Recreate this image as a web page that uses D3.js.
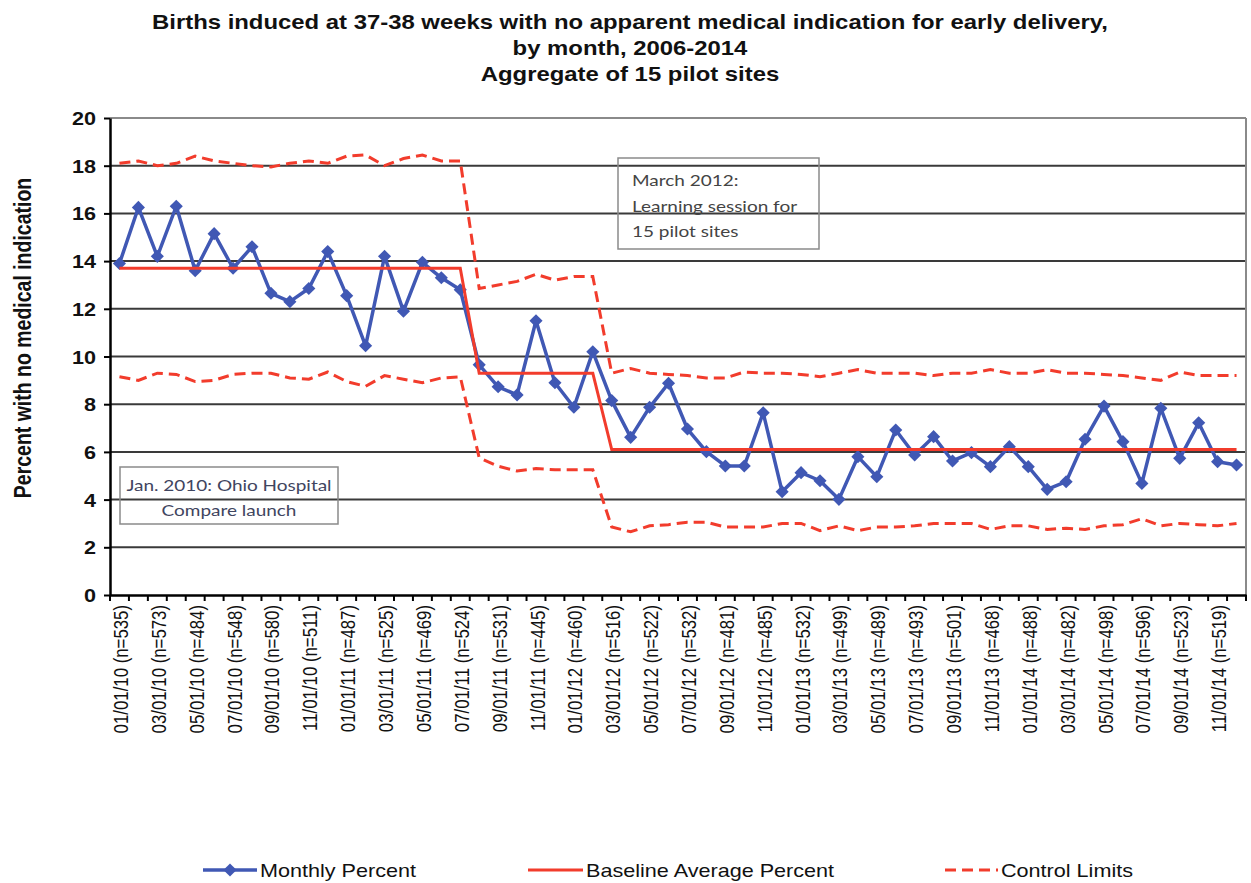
<!DOCTYPE html>
<html>
<head>
<meta charset="utf-8">
<script src="https://cdn.jsdelivr.net/npm/d3@7"></script>
<style>
  body { margin: 0; background: #fff; }
  text { font-family: "Liberation Sans", Arial, sans-serif; }
</style>
</head>
<body>
<div id="main"></div>
<script>
// 60 monthly categories, Jan 2010 .. Dec 2014
const categories = d3.timeMonth.range(new Date(2010, 0, 1), new Date(2015, 0, 1))
  .map(d3.timeFormat('%m/%d/%y'));

const tickLabels = [
  '01/01/10 (n=535)', '03/01/10 (n=573)', '05/01/10 (n=484)', '07/01/10 (n=548)',
  '09/01/10 (n=580)', '11/01/10 (n=511)', '01/01/11 (n=487)', '03/01/11 (n=525)',
  '05/01/11 (n=469)', '07/01/11 (n=524)', '09/01/11 (n=531)', '11/01/11 (n=445)',
  '01/01/12 (n=460)', '03/01/12 (n=516)', '05/01/12 (n=522)', '07/01/12 (n=532)',
  '09/01/12 (n=481)', '11/01/12 (n=485)', '01/01/13 (n=532)', '03/01/13 (n=499)',
  '05/01/13 (n=489)', '07/01/13 (n=493)', '09/01/13 (n=501)', '11/01/13 (n=468)',
  '01/01/14 (n=488)', '03/01/14 (n=482)', '05/01/14 (n=498)', '07/01/14 (n=596)',
  '09/01/14 (n=523)', '11/01/14 (n=519)'
];

const monthlyPercent = [
  13.9, 16.25, 14.2, 16.3, 13.6, 15.15, 13.7, 14.6, 12.65, 12.3,
  12.85, 14.4, 12.55, 10.45, 14.2, 11.9, 13.95, 13.3, 12.8, 9.65,
  8.73, 8.39, 11.5, 8.9, 7.87, 10.2, 8.15, 6.61, 7.87, 8.88,
  6.96, 6.01, 5.41, 5.41, 7.64, 4.33, 5.13, 4.79, 4.01, 5.8,
  4.96, 6.92, 5.87, 6.64, 5.62, 5.97, 5.38, 6.22, 5.38, 4.43,
  4.75, 6.53, 7.92, 6.43, 4.68, 7.83, 5.73, 7.22, 5.59, 5.45
];

const baselineAvg = [
  13.7, 13.7, 13.7, 13.7, 13.7, 13.7, 13.7, 13.7, 13.7, 13.7,
  13.7, 13.7, 13.7, 13.7, 13.7, 13.7, 13.7, 13.7, 13.7, 9.3,
  9.3, 9.3, 9.3, 9.3, 9.3, 9.3, 6.1, 6.1, 6.1, 6.1,
  6.1, 6.1, 6.1, 6.1, 6.1, 6.1, 6.1, 6.1, 6.1, 6.1,
  6.1, 6.1, 6.1, 6.1, 6.1, 6.1, 6.1, 6.1, 6.1, 6.1,
  6.1, 6.1, 6.1, 6.1, 6.1, 6.1, 6.1, 6.1, 6.1, 6.1
];

const upperLimit = [
  18.1, 18.2, 18.0, 18.1, 18.4, 18.2, 18.1, 18.0, 17.95, 18.1,
  18.2, 18.1, 18.4, 18.45, 18.0, 18.3, 18.45, 18.2, 18.2, 12.85,
  13.0, 13.15, 13.45, 13.2, 13.35, 13.35, 9.3, 9.5, 9.3, 9.25,
  9.2, 9.1, 9.1, 9.35, 9.3, 9.3, 9.25, 9.15, 9.3, 9.45,
  9.3, 9.3, 9.3, 9.2, 9.3, 9.3, 9.45, 9.3, 9.3, 9.45,
  9.3, 9.3, 9.25, 9.2, 9.1, 9.0, 9.35, 9.2, 9.2, 9.2
];

const lowerLimit = [
  9.15, 9.0, 9.3, 9.25, 8.95, 9.0, 9.25, 9.3, 9.3, 9.1,
  9.05, 9.35, 8.95, 8.75, 9.2, 9.05, 8.9, 9.1, 9.15, 5.75,
  5.4, 5.2, 5.3, 5.25, 5.25, 5.25, 2.85, 2.65, 2.9, 2.95,
  3.05, 3.05, 2.85, 2.85, 2.85, 3.0, 3.0, 2.7, 2.9, 2.7,
  2.85, 2.85, 2.9, 3.0, 3.0, 3.0, 2.75, 2.9, 2.9, 2.75,
  2.8, 2.75, 2.9, 2.95, 3.2, 2.9, 3.0, 2.95, 2.9, 3.0
];

const yTicks = [0, 2, 4, 6, 8, 10, 12, 14, 16, 18, 20];

const
  W = 1251, H = 883,
  plotLeft = 110, plotRight = 1246, plotTop = 118, plotBottom = 595,
  SX = 1.2, // the original picture is stretched sideways
  blue = '#4058b4',
  red = '#f23c2c';

let svg = d3.select('#main')
  .append('svg')
  .attr('width', W)
  .attr('height', H)
  .style('display', 'block');

svg.append('rect').attr('width', W).attr('height', H).attr('fill', '#fff');

const y = d3.scaleLinear().domain([0, 20]).range([plotBottom, plotTop]);
const xb = d3.scaleBand().domain(categories).range([plotLeft, plotRight]);
const xp = d3.scalePoint().domain(categories).range([plotLeft, plotRight]).padding(0.5);

// gridlines
svg.append('g')
  .selectAll('line')
  .data(yTicks.filter(d => d > 0))
  .enter()
  .append('line')
    .attr('x1', plotLeft)
    .attr('x2', plotRight)
    .attr('y1', d => y(d))
    .attr('y2', d => y(d))
    .attr('stroke', d => d === 20 ? '#8a8a8a' : '#3a3a3a')
    .attr('stroke-width', 2);

// right border
svg.append('line')
  .attr('x1', plotRight).attr('x2', plotRight)
  .attr('y1', plotTop).attr('y2', plotBottom)
  .attr('stroke', '#8a8a8a')
  .attr('stroke-width', 2);

// y axis
let yAxis = svg.append('g')
  .attr('transform', `translate(${plotLeft},0)`)
  .call(d3.axisLeft(y).tickValues(yTicks).tickSize(6).tickSizeOuter(0));
yAxis.select('.domain').attr('stroke', '#000').attr('stroke-width', 2.5);
yAxis.selectAll('.tick line').attr('stroke', '#000').attr('stroke-width', 2);
yAxis.selectAll('.tick text')
  .attr('x', null).attr('dy', null)
  .attr('transform', `translate(-14,6.5) scale(${SX},1)`)
  .attr('fill', '#111')
  .style('font-family', '"Liberation Sans", Arial, sans-serif')
  .style('font-weight', 'bold')
  .style('font-size', '18px');

// x axis: labels on every other month
const labelFor = {};
tickLabels.forEach(t => { labelFor[t.slice(0, 8)] = t; });

let xAxis = svg.append('g')
  .attr('transform', `translate(0,${plotBottom})`)
  .call(d3.axisBottom(xp)
    .tickValues(categories.filter(c => labelFor[c]))
    .tickFormat(c => labelFor[c])
    .tickSize(0)
    .tickSizeOuter(0));
xAxis.select('.domain').attr('stroke', '#000').attr('stroke-width', 2.5);
xAxis.selectAll('.tick text')
  .attr('y', null).attr('dy', null)
  .attr('text-anchor', 'end')
  .attr('transform', `translate(8,10) scale(${SX},1) rotate(-90)`)
  .attr('fill', '#111')
  .style('font-family', '"Liberation Sans", Arial, sans-serif')
  .style('font-size', '16.8px');

// tick marks between months
svg.append('g')
  .selectAll('line')
  .data(categories.map(c => xb(c)).concat([plotRight]))
  .enter()
  .append('line')
    .attr('x1', d => d).attr('x2', d => d)
    .attr('y1', plotBottom).attr('y2', plotBottom + 6)
    .attr('stroke', '#000')
    .attr('stroke-width', 2);

const lineOf = vals => d3.line()
  .x((d, i) => xp(categories[i]))
  .y(d => y(d))(vals);

// monthly percent
svg.append('path')
  .attr('d', lineOf(monthlyPercent))
  .attr('fill', 'none')
  .attr('stroke', blue)
  .attr('stroke-width', 3.5)
  .attr('stroke-linejoin', 'round');

const diamond = d3.symbol().type(d3.symbolDiamond2).size(110);
svg.append('g')
  .selectAll('path')
  .data(monthlyPercent)
  .enter()
  .append('path')
    .attr('d', diamond)
    .attr('transform', (d, i) => `translate(${xp(categories[i])},${y(d)})`)
    .attr('fill', blue);

// baseline average
svg.append('path')
  .attr('d', lineOf(baselineAvg))
  .attr('fill', 'none')
  .attr('stroke', red)
  .attr('stroke-width', 3);

// control limits
[upperLimit, lowerLimit].forEach(vals => {
  svg.append('path')
    .attr('d', lineOf(vals))
    .attr('fill', 'none')
    .attr('stroke', red)
    .attr('stroke-width', 3)
    .attr('stroke-dasharray', '11,6');
});

// annotation boxes
svg.append('rect')
  .attr('x', 618).attr('y', 158).attr('width', 201).attr('height', 91)
  .attr('fill', 'none').attr('stroke', '#8a8a8a').attr('stroke-width', 1.5);
['March 2012:', 'Learning session for', '15 pilot sites'].forEach((t, i) => {
  svg.append('text')
    .text(t)
    .attr('transform', `translate(632,${186 + i * 25.5}) scale(${SX},1)`)
    .attr('fill', '#444')
    .style('font-family', 'Lato, "Open Sans", sans-serif')
    .style('font-size', '15.8px');
});

svg.append('rect')
  .attr('x', 120).attr('y', 467).attr('width', 218).attr('height', 57)
  .attr('fill', 'none').attr('stroke', '#8a8a8a').attr('stroke-width', 1.5);
['Jan. 2010: Ohio Hospital', 'Compare launch'].forEach((t, i) => {
  svg.append('text')
    .text(t)
    .attr('transform', `translate(229,${491 + i * 25}) scale(${SX},1)`)
    .attr('text-anchor', 'middle')
    .attr('fill', '#3f4560')
    .style('font-family', 'Lato, "Open Sans", sans-serif')
    .style('font-size', '15.8px');
});

// title
['Births induced at 37-38 weeks with no apparent medical indication for early delivery,',
 'by month, 2006-2014',
 'Aggregate of 15 pilot sites'].forEach((t, i) => {
  svg.append('text')
    .text(t)
    .attr('transform', `translate(630,${29 + i * 26}) scale(${SX},1)`)
    .attr('text-anchor', 'middle')
    .attr('fill', '#111')
    .style('font-weight', 'bold')
    .style('font-size', '19.9px');
});

// y axis title
svg.append('text')
  .text('Percent with no medical indication')
  .attr('transform', `translate(31,338) scale(${SX},1) rotate(-90)`)
  .attr('text-anchor', 'middle')
  .attr('fill', '#111')
  .style('font-weight', 'bold')
  .style('font-size', '19.5px');

// legend
const legend = svg.append('g');
legend.append('line')
  .attr('x1', 203).attr('x2', 257).attr('y1', 870).attr('y2', 870)
  .attr('stroke', blue).attr('stroke-width', 3.5);
legend.append('path')
  .attr('d', diamond)
  .attr('transform', 'translate(230,870)')
  .attr('fill', blue);
legend.append('line')
  .attr('x1', 528).attr('x2', 583).attr('y1', 870).attr('y2', 870)
  .attr('stroke', red).attr('stroke-width', 3);
legend.append('line')
  .attr('x1', 945).attr('x2', 998).attr('y1', 870).attr('y2', 870)
  .attr('stroke', red).attr('stroke-width', 3)
  .attr('stroke-dasharray', '11,6');

[['Monthly Percent', 260], ['Baseline Average Percent', 586], ['Control Limits', 1001]]
  .forEach(([t, x]) => {
    legend.append('text')
      .text(t)
      .attr('transform', `translate(${x},877) scale(${SX},1)`)
      .attr('fill', '#111')
      .style('font-size', '18px');
  });
</script>
</body>
</html>
